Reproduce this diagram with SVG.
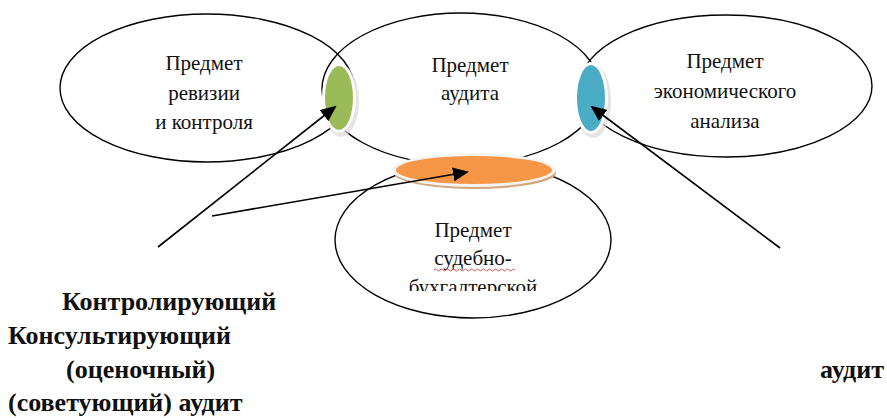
<svg xmlns="http://www.w3.org/2000/svg" width="887" height="418" viewBox="0 0 887 418">
<style>
.big{fill:none;stroke:#000;stroke-width:1.4}
.t{font-family:"Liberation Serif","Times New Roman",serif;font-size:21px;fill:#111;text-anchor:middle}
.b{font-family:"Liberation Serif","Times New Roman",serif;font-size:26px;font-weight:bold;fill:#111}
.con{stroke:#000;stroke-width:1.6;fill:none;marker-end:url(#ah)}
</style>
<defs>
<marker id="ah" markerUnits="userSpaceOnUse" markerWidth="16" markerHeight="14" refX="14" refY="7" orient="auto">
<path d="M0,0 L16,7 L0,14 Z" fill="#000"/>
</marker>
<clipPath id="clipB"><rect x="300" y="150" width="330" height="141"/></clipPath>
</defs>
<rect width="887" height="418" fill="#fff"/>
<g id="revision">
<ellipse class="big" cx="207" cy="88" rx="147" ry="74"/>
<text class="t" x="204" y="70">Предмет</text>
<text class="t" x="204" y="100">ревизии</text>
<text class="t" x="204" y="129">и контроля</text>
</g>
<g id="audit">
<ellipse class="big" cx="461" cy="89" rx="139" ry="76"/>
<text class="t" x="470" y="72">Предмет</text>
<text class="t" x="470" y="100">аудита</text>
</g>
<g id="economic">
<ellipse class="big" cx="726" cy="86" rx="146" ry="71"/>
<text class="t" x="725" y="68">Предмет</text>
<text class="t" x="725" y="98">экономического</text>
<text class="t" x="725" y="128">анализа</text>
</g>
<g id="forensic">
<ellipse class="big" cx="473" cy="240" rx="138" ry="78"/>
<g clip-path="url(#clipB)">
<text class="t" x="473" y="237">Предмет</text>
<text class="t" x="473" y="265">судебно-</text>
<text class="t" x="473" y="294">бухгалтерской</text>
</g>
<path d="M434,270 q1.5,-2 3,0 t3,0 t3,0 t3,0 t3,0 t3,0 t3,0 t3,0 t3,0 t3,0 t3,0 t3,0 t3,0 t3,0 t3,0 t3,0 t3,0 t3,0 t3,0 t3,0 t3,0 t3,0 t3,0 t3,0 t3,0 t3,0 t3,0" fill="none" stroke="#d03030" stroke-width="0.8"/>
</g>
<g id="green">
<ellipse cx="341" cy="101" rx="18" ry="36" fill="#d8d8d8" opacity="0.7"/>
<ellipse cx="339" cy="98" rx="17" ry="35" fill="#fff"/>
<ellipse cx="339" cy="98" rx="14" ry="32" fill="#9bbb59"/>
</g>
<g id="blue">
<ellipse cx="593" cy="101" rx="18" ry="37" fill="#d8d8d8" opacity="0.7"/>
<ellipse cx="591" cy="98" rx="17" ry="36" fill="#fff"/>
<ellipse cx="591" cy="98" rx="14" ry="33" fill="#4bacc6"/>
</g>
<g id="orange">
<ellipse cx="475" cy="173" rx="81" ry="16" fill="#d4a67c"/>
<ellipse cx="474" cy="170" rx="82" ry="17" fill="#f4f4f4"/>
<ellipse cx="474" cy="170" rx="78" ry="14" fill="#f79646"/>
</g>
<g id="connectors">
<line class="con" x1="158" y1="247" x2="335" y2="107"/>
<line class="con" x1="212" y1="216" x2="467" y2="172"/>
<line class="con" x1="780" y1="248" x2="592" y2="107"/>
</g>
<g id="labels">
<text class="b" x="62" y="310">Контролирующий</text>
<text class="b" x="8" y="344">Консультирующий</text>
<text class="b" x="66" y="378">(оценочный)</text>
<text class="b" x="8" y="411">(советующий) аудит</text>
<text class="b" x="820" y="378">аудит</text>
</g>
</svg>
